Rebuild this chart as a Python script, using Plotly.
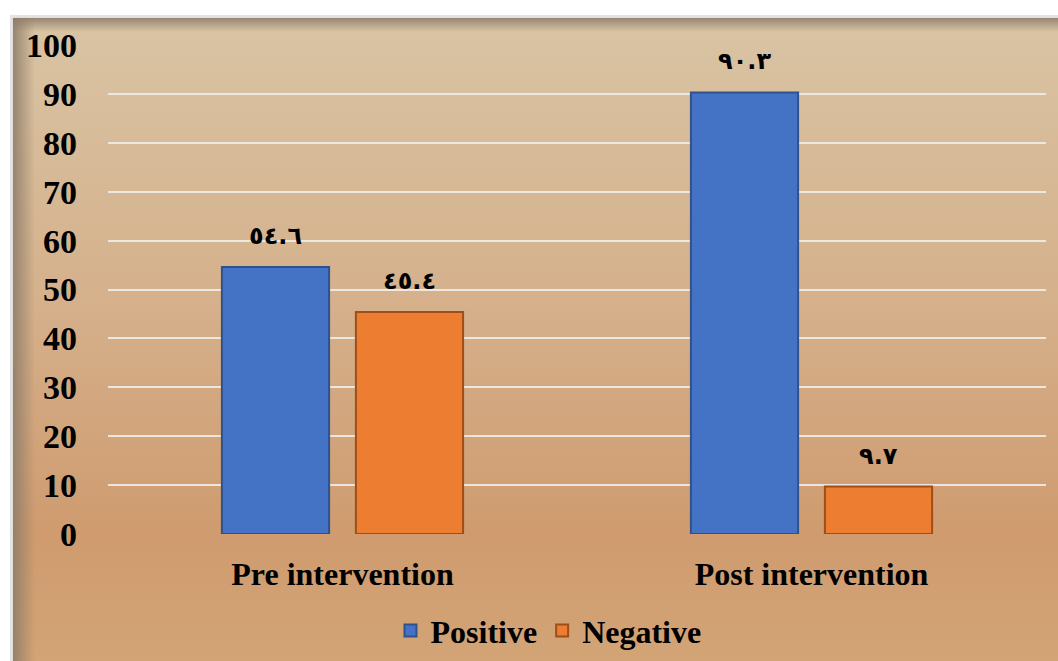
import base64
import plotly.graph_objects as go

# Survey results (percent) before and after the intervention
categories = ["Pre intervention", "Post intervention"]
positive = [54.6, 90.3]
negative = [45.4, 9.7]
y_ticks = [0, 10, 20, 30, 40, 50, 60, 70, 80, 90, 100]

ARABIC_DIGITS = str.maketrans("0123456789", "٠١٢٣٤٥٦٧٨٩")


def arabic_label(v):
    return f"{v:.1f}".translate(ARABIC_DIGITS)


# Warm vertical gradient panel with a soft inner shadow on the top/left edges
bg_svg = """<svg xmlns='http://www.w3.org/2000/svg' width='1048' height='646' viewBox='0 0 1048 646' preserveAspectRatio='none'>
<defs>
<linearGradient id='g' x1='0' y1='0' x2='0' y2='1'>
<stop offset='0' stop-color='#D9C4A4'/>
<stop offset='0.45' stop-color='#D5B08B'/>
<stop offset='0.8' stop-color='#CF9B6F'/>
<stop offset='1' stop-color='#D2A476'/>
</linearGradient>
<linearGradient id='sl' x1='0' y1='0' x2='1' y2='0'>
<stop offset='0' stop-color='#8C7B68' stop-opacity='0.85'/>
<stop offset='1' stop-color='#8C7B68' stop-opacity='0'/>
</linearGradient>
<linearGradient id='st' x1='0' y1='0' x2='0' y2='1'>
<stop offset='0' stop-color='#8C7B68' stop-opacity='0.85'/>
<stop offset='1' stop-color='#8C7B68' stop-opacity='0'/>
</linearGradient>
</defs>
<rect x='0' y='0' width='1048' height='646' fill='#E2E2E2'/>
<rect x='3' y='3' width='1045' height='643' fill='url(#g)'/>
<rect x='3' y='3' width='22' height='643' fill='url(#sl)'/>
<rect x='3' y='3' width='1045' height='14' fill='url(#st)'/>
</svg>"""
bg_uri = "data:image/svg+xml;base64," + base64.b64encode(bg_svg.encode()).decode()

fig = go.Figure()
fig.add_trace(go.Bar(
    name="Positive", x=categories, y=positive,
    marker=dict(color="#4472C4", line=dict(color="#2F528F", width=2)),
))
fig.add_trace(go.Bar(
    name="Negative", x=categories, y=negative,
    marker=dict(color="#ED7D31", line=dict(color="#9E4E17", width=2)),
))

# Value labels above each bar, written with Arabic-Indic digits
for series, shift in ((positive, -67), (negative, 67)):
    for cat, val in zip(categories, series):
        fig.add_annotation(
            x=cat, y=val, xshift=shift, yshift=31,
            text=arabic_label(val), showarrow=False,
            xanchor="center", yanchor="middle",
            font=dict(family="DejaVu Sans", size=24, color="black", weight="bold"),
        )

fig.add_layout_image(dict(
    source=bg_uri, xref="paper", yref="paper",
    x=-0.1045, y=1.0614, sizex=1.1173, sizey=1.3211,
    xanchor="left", yanchor="top", sizing="stretch", layer="below",
))

fig.update_layout(
    width=1058, height=661,
    margin=dict(l=108, r=12, t=45, b=127, autoexpand=False),
    paper_bgcolor="white", plot_bgcolor="rgba(0,0,0,0)",
    barmode="group", bargap=0.4286, bargroupgap=0.2,
    font=dict(family="Liberation Serif", color="black", size=31, weight="bold"),
    showlegend=True,
    legend=dict(
        orientation="h", x=0.4696, xanchor="center", y=-0.198, yanchor="middle",
        font=dict(size=32, family="Liberation Serif", weight="bold"),
        bgcolor="rgba(0,0,0,0)", itemwidth=30, traceorder="normal",
    ),
    xaxis=dict(
        showgrid=False, showline=False, ticks="", ticklabelstandoff=18,
        automargin=False,
        tickfont=dict(size=32, family="Liberation Serif", weight="bold"),
    ),
    yaxis=dict(
        range=[0, 100], tickvals=y_ticks, showgrid=True,
        gridcolor="rgba(236,234,230,0.95)", gridwidth=2,
        zeroline=False, showline=False, ticks="", ticklabelstandoff=30,
        automargin=False,
        tickfont=dict(size=34, family="Liberation Serif", weight="bold"),
    ),
)

fig.write_html("out.html")
